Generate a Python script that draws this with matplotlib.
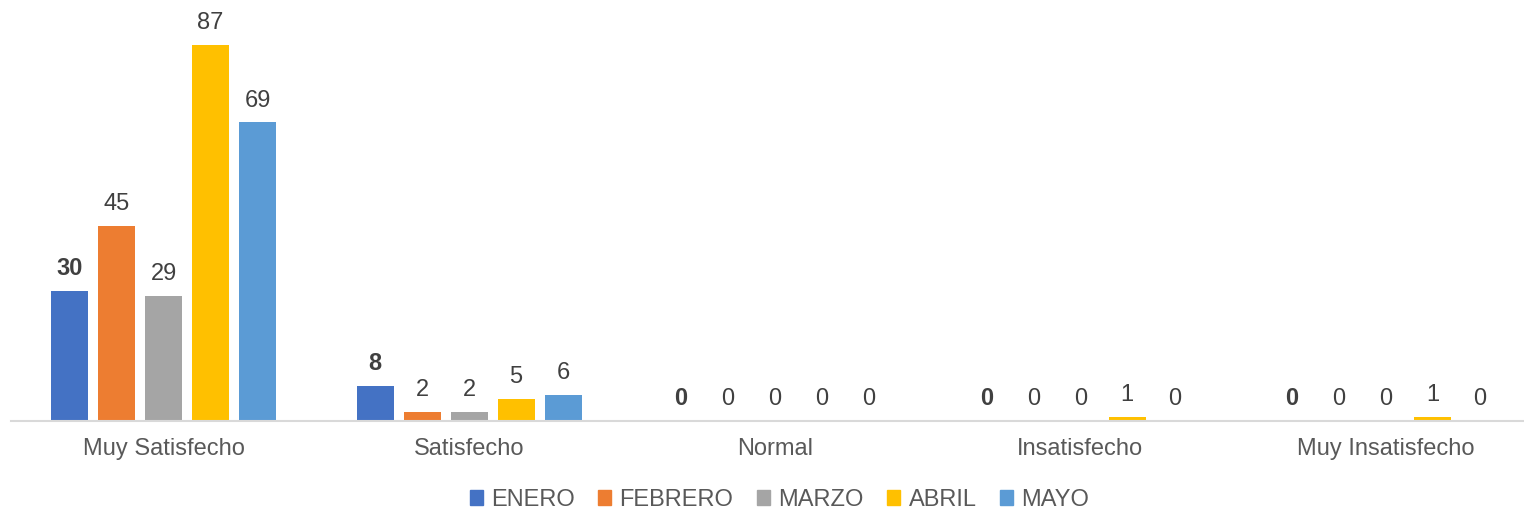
import numpy as np
import matplotlib.pyplot as plt
from matplotlib.patches import Patch

plt.rcParams['font.family'] = ['Liberation Sans', 'DejaVu Sans']

categories = ["Muy Satisfecho", "Satisfecho", "Normal", "Insatisfecho", "Muy Insatisfecho"]
months = ["ENERO", "FEBRERO", "MARZO", "ABRIL", "MAYO"]
enero = [30, 8, 0, 0, 0]
febrero = [45, 2, 0, 0, 0]
marzo = [29, 2, 0, 0, 0]
abril = [87, 5, 0, 1, 1]
mayo = [69, 6, 0, 0, 0]
series = [enero, febrero, marzo, abril, mayo]
colors = ["#4472C4", "#ED7D31", "#A5A5A5", "#FFC000", "#5B9BD5"]

W, H = 1524, 511
FS = 17
fig = plt.figure(figsize=(W / 100, H / 100), dpi=100)
# axes runs a little past the right edge, like the original
ax = fig.add_axes([10.7 / W, 90 / H, 1528 / W, 411 / H])

x = np.arange(len(categories))
step = 0.1538
width = 0.121
for i, (vals, col, name) in enumerate(zip(series, colors, months)):
    pos = x + (i - 2) * step
    bars = ax.bar(pos, vals, width=width, color=col, label=name)
    for b, v in zip(bars, vals):
        ax.annotate(str(v), (b.get_x() + b.get_width() / 2, v),
                    xytext=(0, 11.5), textcoords="offset points",
                    ha="center", va="baseline", fontsize=FS, color="#404040",
                    fontweight="bold" if i == 0 else "normal")

ax.set_xlim(-0.5, len(categories) - 0.5)
ax.set_ylim(0, 95)
ax.set_yticks([])
ax.set_xticks(x)
ax.set_xticklabels(categories, fontsize=FS, color="#595959")
ax.tick_params(axis="x", length=0, pad=12)
for s in ["top", "right", "left"]:
    ax.spines[s].set_visible(False)
ax.spines["bottom"].set_color("#D9D9D9")
ax.spines["bottom"].set_linewidth(1.5)

handles = [Patch(color=c, label=m) for c, m in zip(colors, months)]
leg = fig.legend(handles=handles, loc="center", bbox_to_anchor=(779.5 / W, 11 / H),
                 ncol=5, frameon=False, fontsize=FS, handlelength=0.55,
                 handleheight=0.6, handletextpad=0.35, columnspacing=1.0,
                 borderpad=0)
for t in leg.get_texts():
    t.set_color("#595959")

fig.savefig("out.png", dpi=100)
